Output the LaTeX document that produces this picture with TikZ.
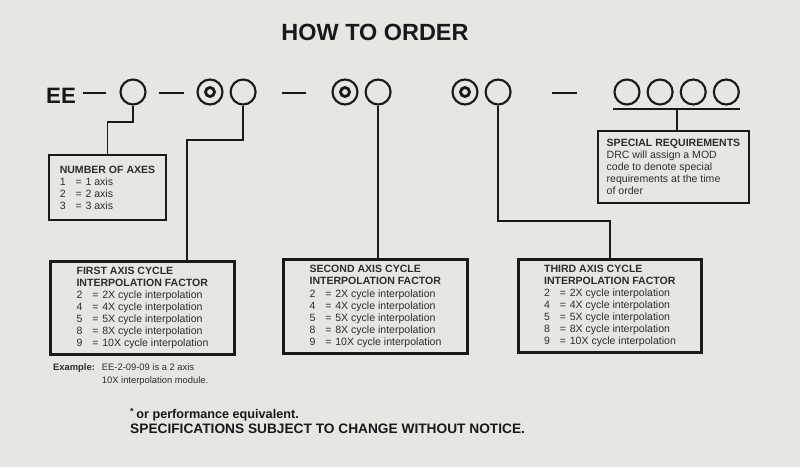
\documentclass[tikz,border=0pt]{standalone}
\usepackage{fontspec}
\setmainfont{Liberation Sans}
\usetikzlibrary{
  positioning,
  calc
}
\definecolor{paper}{RGB}{230,230,227}
\definecolor{ink}{RGB}{25,25,25}
\definecolor{print}{RGB}{45,45,45}
\tikzset{
  digit/.style={
    circle, draw=ink, line width=1.8pt,
    minimum size=0.75cm, inner sep=0pt
  },
  zero/.style={
    circle, draw=ink, line width=2.4pt,
    minimum size=0.27cm, inner sep=0pt
  },
  infobox/.style={
    rectangle, draw=ink, line width=2.4pt,
    align=left, text=print, inner sep=0pt,
    font=\fontsize{9}{10.3}\selectfont
  },
  factorbox/.style={
    infobox, minimum width=5.5cm, minimum height=2.8cm
  },
  wire/.style={draw=ink, line width=1.7pt},
  sepdash/.style={draw=ink, line width=1.6pt}
}
\newcommand{\codeline}[2]{\makebox[13.5pt][l]{#1}\makebox[8.5pt][l]{=}#2}

\begin{document}
\begin{tikzpicture}[x=0.03cm, y=-0.03cm]

\fill[paper] (0,0) rectangle (800,467);

% ── Title and part number ──────────────────────────────────────────────────
\node[font=\bfseries\fontsize{20}{20}\selectfont, text=ink] (title) at (375,32) {HOW TO ORDER};
\node[font=\bfseries\fontsize{19}{19}\selectfont, text=ink, inner sep=0pt] (ee) at (61,96) {EE};

\node[digit] (a1) at (133,92) {};
\node[digit] (f1) at (210,92) {};
\node[zero] at (f1) {};
\node[digit, right=0.18cm of f1] (b1) {};
\node[digit] (f2) at (345,92) {};
\node[zero] at (f2) {};
\node[digit, right=0.18cm of f2] (b2) {};
\node[digit] (f3) at (465,92) {};
\node[zero] at (f3) {};
\node[digit, right=0.18cm of f3] (b3) {};
\node[digit] (m1) at (627,92) {};
\node[digit, right=0.18cm of m1] (m2) {};
\node[digit, right=0.18cm of m2] (m3) {};
\node[digit, right=0.18cm of m3] (m4) {};

% dashes
\draw[sepdash] ($(ee.east)+(7,-3)$) -- ++(23,0);
\draw[sepdash] ($(a1.east)+(12,1)$) -- ++(25,0);
\draw[sepdash] ($(b1.east)+(25,1)$) -- ++(24,0);
\draw[sepdash] ($(b3.east)+(40,1)$) -- ++(25,0);

% ── Boxes ──────────────────────────────────────────────────────────────────
\node[infobox, minimum width=3.51cm, minimum height=1.95cm] (axes) at (107.5,187.5)
  {\textbf{NUMBER OF AXES}\\
   \codeline{1}{1 axis}\\
   \codeline{2}{2 axis}\\
   \codeline{3}{3 axis}};

\node[infobox, minimum width=4.53cm, minimum height=2.16cm] (special) at (673.5,167)
  {\textbf{SPECIAL REQUIREMENTS}\\
   DRC will assign a MOD\\
   code to denote special\\
   requirements at the time\\
   of order};

\node[factorbox] (first) at (142.5,308)
  {\textbf{FIRST AXIS CYCLE}\\
   \textbf{INTERPOLATION FACTOR}\\
   \codeline{2}{2X cycle interpolation}\\
   \codeline{4}{4X cycle interpolation}\\
   \codeline{5}{5X cycle interpolation}\\
   \codeline{8}{8X cycle interpolation}\\
   \codeline{9}{10X cycle interpolation}};

\node[factorbox] (second) at (375.5,306.5)
  {\textbf{SECOND AXIS CYCLE}\\
   \textbf{INTERPOLATION FACTOR}\\
   \codeline{2}{2X cycle interpolation}\\
   \codeline{4}{4X cycle interpolation}\\
   \codeline{5}{5X cycle interpolation}\\
   \codeline{8}{8X cycle interpolation}\\
   \codeline{9}{10X cycle interpolation}};

\node[factorbox] (third) at (610,306)
  {\textbf{THIRD AXIS CYCLE}\\
   \textbf{INTERPOLATION FACTOR}\\
   \codeline{2}{2X cycle interpolation}\\
   \codeline{4}{4X cycle interpolation}\\
   \codeline{5}{5X cycle interpolation}\\
   \codeline{8}{8X cycle interpolation}\\
   \codeline{9}{10X cycle interpolation}};

% ── Connectors ─────────────────────────────────────────────────────────────
\draw[wire] (a1.south) -- ++(0,16) -| (axes.north);
\coordinate (k1) at (187,140);
\draw[wire] (b1.south) |- (k1) -- (k1 |- first.north);
\draw[wire] (b2.south) -- (b2.south |- second.north);
\draw[wire] (b3.south) |- ($(third.north)+(0,-37)$) -- (third.north);
\coordinate (ul) at ($(m2.south)!0.5!(m3.south)+(0,3.5)$);
\draw[wire] (m1.west |- ul) -- (m4.east |- ul);
\draw[wire] (ul) -- (ul |- special.north);

% ── Notes ──────────────────────────────────────────────────────────────────
\node[anchor=north west, inner sep=0pt, text=print, font=\fontsize{8}{11}\selectfont] (example) at (53,361)
  {\begin{tabular}{@{}l@{\hspace{6pt}}l@{}}
   \textbf{Example:} & EE-2-09-09 is a 2 axis\\
   & 10X interpolation module.
   \end{tabular}};

\node[anchor=north west, inner sep=0pt, align=left, text=ink, font=\bfseries\fontsize{11.7}{12}\selectfont] (notes) at (130,408)
  {{\fontsize{10.8}{12}\selectfont\textsuperscript{*}\,or performance equivalent.}\\
   SPECIFICATIONS SUBJECT TO CHANGE WITHOUT NOTICE.};

\end{tikzpicture}
\end{document}
